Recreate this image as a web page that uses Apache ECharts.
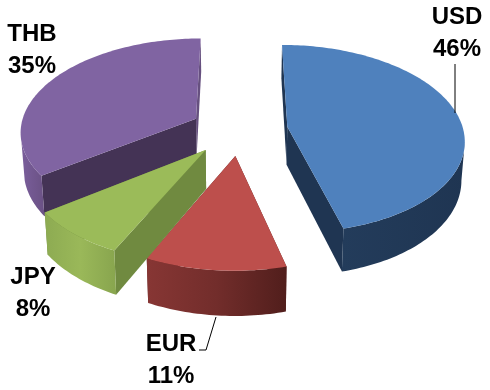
<!DOCTYPE html>
<html>
<head>
<meta charset="utf-8">
<style>html,body{margin:0;padding:0;background:#fff}#chart{width:490px;height:390px}</style>
<script src="https://cdn.jsdelivr.net/npm/echarts@6/dist/echarts.min.js"></script>
</head>
<body>
<div id="chart"></div>
<script>
// Currency shares, clockwise from twelve o'clock
const categories = ['USD', 'EUR', 'JPY', 'THB'];
const shares = [46, 11, 8, 35];

// Ground-plane projection of the tilted pie
const view = { cx: 240, cy: 130, rx: 176, ry: 93, persp: 0.126, depth: 38, taper: 0.985 };
const pullOut = 0.272;
// Extra sideways spacing of each wedge, in pixels
const wedgeShift = [0, 0, -3, -2];

// Painting order (back to front) and colours per wedge
const stacking = [1, 3, 2, 0];
const topFill = ['#4f81bd', '#bd4f4c', '#9bbb59', '#8064a2'];
const wallFill = ['#1f3552', '#5a2220', '#708a40', '#443355'];
const backWallFill = ['#1f3552', '#5a2220', '#708a40', '#66507f'];
const rimColours = [
  ['#233c5b', '#1f3552'],
  ['#873634', '#722d2b', '#511e1c'],
  ['#8dab52', '#9ab859', '#88a54e'],
  ['#7a5e9b', '#6a5184']
];

// Label boxes and their leader lines
const labelCentres = [[457, 33], [171, 360], [33, 293], [32, 50]];
const leaders = [
  [[455, 64], [455, 113]],
  [[216, 317], [206, 350], [199, 350]],
  null,
  null
];

const total = shares.reduce((a, b) => a + b, 0);
const starts = [];
shares.reduce((sum, v, i) => { starts[i] = sum; return sum + v; }, 0);
const rad = v => v / total * Math.PI * 2;

function project(x, y, lower) {
  const k = 1 / (1 - view.persp * y);
  const f = lower ? view.taper : 1;
  return [
    view.cx + view.rx * x * k * f,
    view.cy + view.ry * y * k + (lower ? view.depth * k : 0)
  ];
}

function renderWedge(params, api) {
  const i = params.dataIndex;
  const value = api.value(0);
  const a0 = rad(starts[i]);
  const a1 = a0 + rad(value);
  const mid = (a0 + a1) / 2;
  const ax = Math.sin(mid) * pullOut;
  const ay = -Math.cos(mid) * pullOut;
  const onRim = t => [ax + Math.sin(t), ay - Math.cos(t)];

  const arc = (from, to, lower) => {
    const out = [];
    const n = Math.max(2, Math.ceil((to - from) / 0.02));
    for (let s = 0; s <= n; s++) {
      const p = onRim(from + (to - from) * s / n);
      out.push(project(p[0], p[1], lower));
    }
    return out;
  };
  const wall = t => {
    const p = onRim(t);
    return [project(ax, ay, false), project(p[0], p[1], false), project(p[0], p[1], true), project(ax, ay, true)];
  };

  const base = stacking.indexOf(i) * 10 + 10;
  const poly = (points, fill, z2) => ({ type: 'polygon', z2, shape: { points }, style: { fill } });
  const faces = [
    poly(wall(a1), backWallFill[i], base),
    poly(wall(a0), wallFill[i], base + 1)
  ];

  // The rim runs between the two silhouette points of the projected circle
  const turn = Math.acos(ay - view.persp);
  const lo = Math.max(a0, turn);
  const hi = Math.min(a1, Math.PI * 2 - turn);
  if (hi > lo) {
    const rim = arc(lo, hi, false).concat(arc(lo, hi, true).reverse());
    const colours = rimColours[i];
    const stops = colours.map((color, s) => ({ offset: s / (colours.length - 1), color }));
    faces.push(poly(rim, new echarts.graphic.LinearGradient(0, 0, 1, 0, stops), base + 2));
  }
  faces.push(poly([project(ax, ay, false)].concat(arc(a0, a1, false)), topFill[i], base + 3));

  const children = [{ type: 'group', x: wedgeShift[i], children: faces }];
  children.push({
    type: 'text', z2: 100,
    x: labelCentres[i][0], y: labelCentres[i][1],
    style: {
      text: categories[i] + '\n' + value + '%',
      font: 'bold 24px "Liberation Sans", Arial, sans-serif',
      lineHeight: 32, fill: '#000', align: 'center', verticalAlign: 'middle'
    }
  });
  if (leaders[i]) {
    children.push({
      type: 'polyline', z2: 90, shape: { points: leaders[i] },
      style: { stroke: '#000', lineWidth: 1, fill: null }
    });
  }
  return { type: 'group', children };
}

const chart = echarts.init(document.getElementById('chart'), null, { renderer: 'canvas' });
chart.setOption({
  animation: false,
  backgroundColor: '#fff',
  series: [{
    type: 'custom',
    coordinateSystem: 'none',
    silent: true,
    renderItem: renderWedge,
    data: shares.map(v => [v])
  }]
});
</script>
</body>
</html>
